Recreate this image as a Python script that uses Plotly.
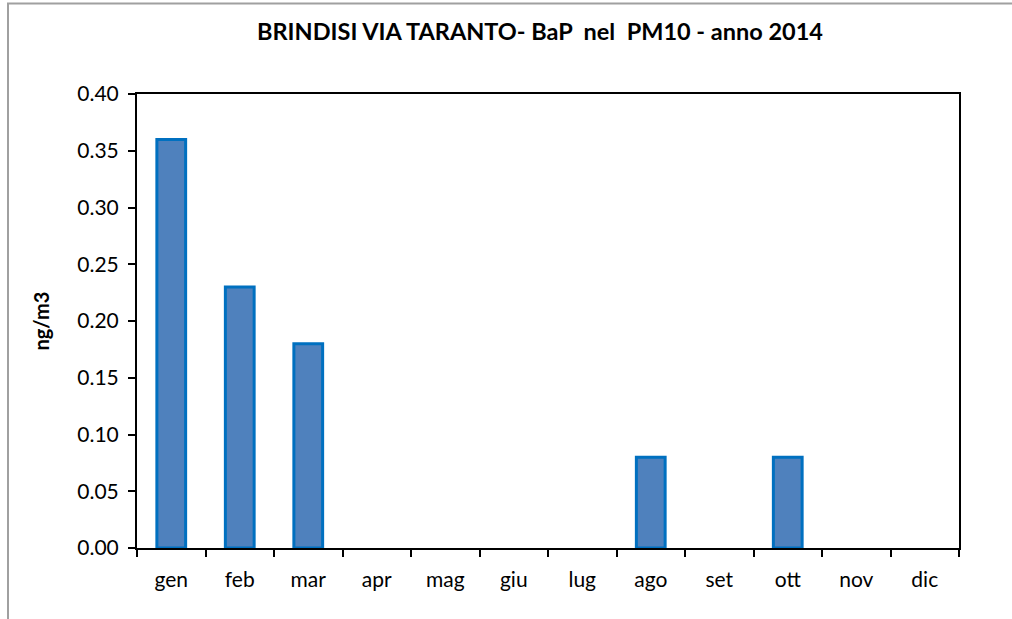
import plotly.graph_objects as go

months = ["gen", "feb", "mar", "apr", "mag", "giu", "lug", "ago", "set", "ott", "nov", "dic"]
bap_values = [0.36, 0.23, 0.18, None, None, None, None, 0.08, None, 0.08, None, None]
y_ticks = [0.00, 0.05, 0.10, 0.15, 0.20, 0.25, 0.30, 0.35, 0.40]
title_text = "<b>BRINDISI VIA TARANTO- BaP  nel  PM10 - anno 2014</b>"
y_title = "<b>ng/m3</b>"

FONT = "Lato, 'Noto Sans', sans-serif"

fig = go.Figure()
fig.add_trace(go.Bar(
    x=months, y=bap_values, width=0.42,
    marker=dict(color="#4F81BD", line=dict(color="#0070C0", width=3)),
))

L, R, T, B = 137, 959, 94, 548
W, H = 1012, 619

def px_x(px):
    return (px - L) / (R - L)

def px_y(py):
    return (B - py) / (B - T)

fig.update_layout(
    width=W, height=H,
    margin=dict(l=L, r=W - R, t=T, b=H - B, pad=0),
    paper_bgcolor="white", plot_bgcolor="white",
    showlegend=False,
    font=dict(family=FONT, size=21, color="black"),
    title=dict(text=title_text, x=px_x(540), xanchor="center", xref="paper",
               y=1 - 32 / H, yanchor="middle", font=dict(size=23.5, color="black")),
    shapes=[dict(type="rect", xref="paper", yref="paper",
                 x0=px_x(8), x1=px_x(1030), y0=px_y(640), y1=px_y(3.5),
                 line=dict(color="#A0A0A0", width=2), fillcolor="rgba(0,0,0,0)", layer="below")],
)

fig.update_xaxes(
    type="category", tickson="boundaries", ticks="outside", ticklen=7, tickwidth=1.5,
    tickcolor="black", showline=True, linecolor="black", linewidth=2, mirror=True,
    showgrid=False, tickfont=dict(size=21), ticklabelstandoff=12,
)
fig.update_yaxes(
    range=[0, 0.4], tickvals=y_ticks, tickformat=".2f", ticks="outside", ticklen=7,
    tickwidth=1.5, tickcolor="black", showline=True, linecolor="black", linewidth=2,
    mirror=True, showgrid=False, zeroline=False, tickfont=dict(size=21),
    ticklabelstandoff=5,
    title=dict(text=y_title, font=dict(size=20), standoff=22),
)

fig.write_html("out.html", config={"displayModeBar": False},
               post_script="document.body.style.margin='0';")
